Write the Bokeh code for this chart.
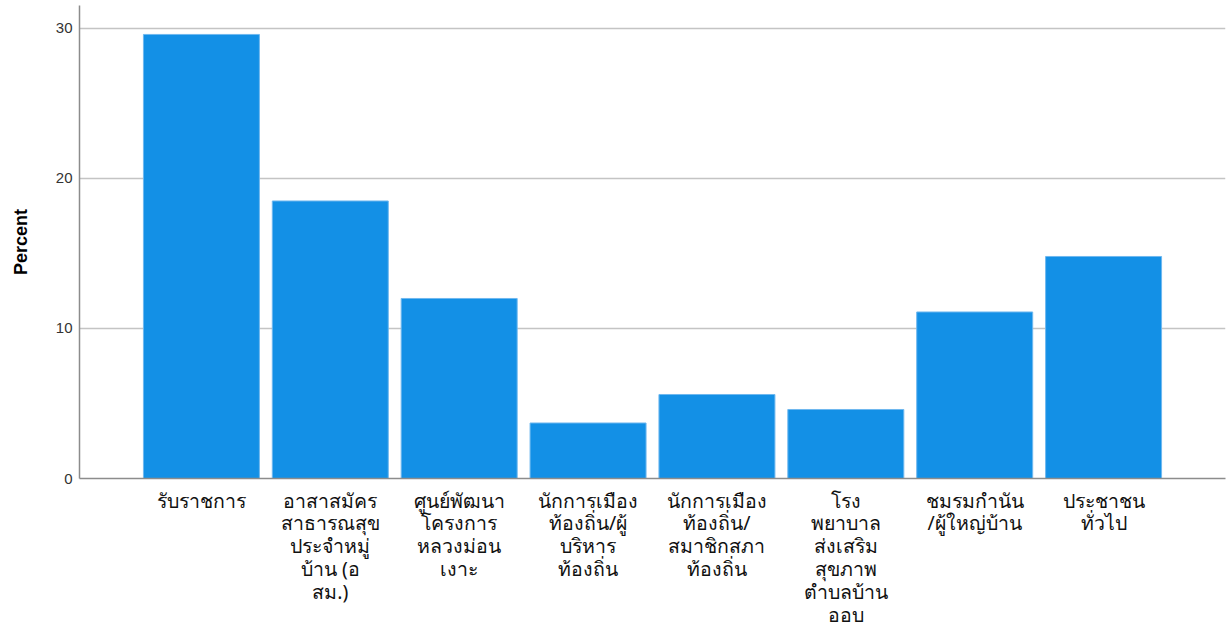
from bokeh.plotting import figure
from bokeh.models import FactorRange, Range1d, ColumnDataSource, FixedTicker
from bokeh.embed import file_html
from bokeh.resources import INLINE

categories = [
    "รับราชการ",
    "อาสาสมัคร\nสาธารณสุข\nประจำหมู่\nบ้าน (อ\nสม.)",
    "ศูนย์พัฒนา\nโครงการ\nหลวงม่อน\nเงาะ",
    "นักการเมือง\nท้องถิ่น/ผู้\nบริหาร\nท้องถิ่น",
    "นักการเมือง\nท้องถิ่น/\nสมาชิกสภา\nท้องถิ่น",
    "โรง\nพยาบาล\nส่งเสริม\nสุขภาพ\nตำบลบ้าน\nออบ",
    "ชมรมกำนัน\n/ผู้ใหญ่บ้าน",
    "ประชาชน\nทั่วไป",
]
percent = [29.6, 18.5, 12.0, 3.7, 5.6, 4.6, 11.1, 14.8]
y_ticks = [0, 10, 20, 30]

source = ColumnDataSource(dict(cat=categories, pct=percent))

p = figure(
    width=1226, height=635,
    x_range=FactorRange(*categories, range_padding=0.446, range_padding_units="absolute"),
    y_range=Range1d(0, 31.53),
    output_backend="svg", toolbar_location=None,
    min_border_left=79, min_border_right=1, min_border_top=5, min_border_bottom=157,
)
p.vbar(x="cat", top="pct", width=0.9, source=source,
       fill_color="#1390e6", line_color="#6fb8ef", line_width=1)

p.outline_line_color = None
p.xgrid.grid_line_color = None
p.ygrid.grid_line_color = "#c4c4c4"
p.ygrid.grid_line_width = 1.5
p.yaxis.ticker = FixedTicker(ticks=y_ticks)

p.yaxis.axis_label = "Percent"
p.yaxis.axis_label_text_font = "Liberation Sans"
p.yaxis.axis_label_text_font_style = "bold"
p.yaxis.axis_label_text_font_size = "18px"
p.yaxis.axis_label_text_color = "#000000"
p.yaxis.axis_label_standoff = 22
p.yaxis.major_label_text_font = "Liberation Sans"
p.yaxis.major_label_text_font_size = "15px"
p.yaxis.major_label_text_color = "#333333"
p.yaxis.major_label_standoff = 7
p.yaxis.major_tick_out = 0
p.yaxis.major_tick_in = 0
p.yaxis.major_tick_line_color = None
p.yaxis.minor_tick_line_color = None
p.yaxis.axis_line_color = "#8c8c8c"
p.yaxis.axis_line_width = 1.5

p.xaxis.major_label_text_font = "Noto Sans"
p.xaxis.major_label_text_font_size = "19.5px"
p.xaxis.major_label_text_line_height = 0.85
p.xaxis.major_label_text_color = "#111111"
p.xaxis.major_label_standoff = 8
p.xaxis.major_tick_out = 0
p.xaxis.major_tick_in = 0
p.xaxis.major_tick_line_color = None
p.xaxis.minor_tick_line_color = None
p.xaxis.axis_line_color = "#8c8c8c"
p.xaxis.axis_line_width = 1.5

open("out.html", "w").write(file_html(p, INLINE))
